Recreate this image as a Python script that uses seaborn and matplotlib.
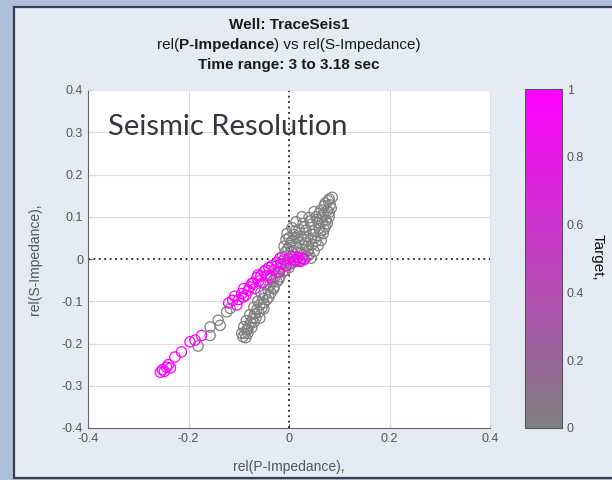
import numpy as np
import pandas as pd
import seaborn as sns
import matplotlib
matplotlib.use("Agg")
import matplotlib.pyplot as plt
from matplotlib.colors import LinearSegmentedColormap, Normalize
from matplotlib.patches import Rectangle
from matplotlib.cm import ScalarMappable

# ---- data: relative P- and S-impedance samples, coloured by target flag ----
grey_p = [-0.092, -0.088, -0.084, -0.090, -0.080, -0.076, -0.085, -0.072, -0.068, -0.078,
          -0.064, -0.070, -0.058, -0.062, -0.052, -0.048, -0.056, -0.042, -0.038, -0.046,
          -0.032, -0.028, -0.036, -0.022, -0.016, -0.024, -0.010, -0.004, -0.014, 0.002,
          0.010, 0.018, -0.008, 0.004, 0.016, 0.028, 0.036, 0.044, -0.010, 0.002,
          0.014, 0.026, 0.038, 0.050, -0.006, 0.008, 0.020, 0.032, 0.046, 0.058,
          0.064, -0.004, 0.010, 0.024, 0.038, 0.052, 0.068, 0.006, 0.020, 0.034,
          0.048, 0.060, 0.072, 0.014, 0.028, 0.044, 0.058, 0.074, 0.026, 0.040,
          0.054, 0.068, 0.080, 0.050, 0.064, 0.076, 0.070, 0.082, 0.078, 0.086,
          0.084, -0.012, 0.000, 0.008, -0.020, -0.030, -0.040, -0.050, -0.058, 0.020,
          0.030, -0.181, -0.157, -0.157, -0.141, -0.137, -0.124, -0.117, -0.094, -0.082,
          0.000, 0.012, 0.030, 0.042, 0.056, 0.066, 0.076, 0.062, 0.054, 0.044,
          0.030, 0.016, 0.004, 0.036, 0.060, 0.072, 0.080, 0.066, 0.048, 0.040,
          0.024, -0.002, 0.070, 0.080, -0.086, -0.082, -0.074, -0.070, -0.066, -0.060,
          -0.054, -0.050, -0.044, -0.036, -0.030, -0.024, -0.018, -0.008, 0.002, 0.014]
grey_s = [-0.184, -0.176, -0.168, -0.160, -0.158, -0.150, -0.146, -0.140, -0.130, -0.132,
          -0.120, -0.114, -0.108, -0.100, -0.094, -0.084, -0.080, -0.072, -0.062, -0.060,
          -0.052, -0.042, -0.038, -0.032, -0.022, -0.016, -0.012, -0.004, 0.004, 0.006,
          0.004, 0.002, 0.016, 0.018, 0.014, 0.010, 0.006, 0.002, 0.030, 0.032,
          0.028, 0.024, 0.020, 0.018, 0.046, 0.044, 0.040, 0.038, 0.034, 0.032,
          0.044, 0.060, 0.058, 0.054, 0.052, 0.050, 0.060, 0.074, 0.070, 0.068,
          0.066, 0.072, 0.076, 0.088, 0.084, 0.082, 0.086, 0.092, 0.100, 0.098,
          0.100, 0.104, 0.100, 0.112, 0.116, 0.114, 0.126, 0.128, 0.138, 0.146,
          0.120, -0.030, -0.020, -0.008, -0.048, -0.070, -0.090, -0.118, -0.140, -0.004,
          -0.002, -0.206, -0.181, -0.161, -0.145, -0.157, -0.125, -0.117, -0.176, -0.166,
          0.050, 0.066, 0.076, 0.090, 0.094, 0.088, 0.084, 0.062, 0.042, 0.046,
          0.046, 0.050, 0.040, 0.030, 0.108, 0.132, 0.142, 0.098, 0.058, 0.010,
          0.014, 0.024, 0.070, 0.110, -0.186, -0.176, -0.162, -0.150, -0.140, -0.126,
          -0.116, -0.104, -0.096, -0.080, -0.066, -0.054, -0.042, -0.028, -0.012, -0.006]
grey_t = [0.0] * len(grey_p)

pink_p = [-0.256, -0.252, -0.248, -0.244, -0.240, -0.236, -0.227, -0.214, -0.197, -0.187,
          -0.174, -0.104, -0.091, -0.081, -0.071, -0.062, -0.112, -0.100, -0.094, -0.086,
          -0.078, -0.068, -0.060, -0.052, -0.044, -0.036, -0.030, -0.020, -0.016, -0.006,
          0.000, 0.010, 0.018, 0.026, -0.050, -0.040, -0.018, -0.120, -0.108, -0.090,
          -0.074, -0.064, -0.056, -0.046, -0.034, -0.024, -0.010, 0.006, 0.014, 0.022,
          0.030]
pink_s = [-0.268, -0.262, -0.266, -0.256, -0.250, -0.258, -0.232, -0.220, -0.196, -0.192,
          -0.181, -0.109, -0.090, -0.074, -0.057, -0.038, -0.098, -0.096, -0.082, -0.086,
          -0.066, -0.070, -0.052, -0.056, -0.040, -0.044, -0.026, -0.030, -0.012, -0.016,
          0.000, -0.004, 0.004, 0.002, -0.030, -0.020, 0.002, -0.104, -0.088, -0.070,
          -0.058, -0.044, -0.040, -0.026, -0.016, -0.008, -0.002, 0.006, -0.002, -0.006,
          0.000]
pink_t = [1.0] * len(pink_p)

x_ticks = [-0.4, -0.2, 0, 0.2, 0.4]
x_tick_labels = ["-0.4", "-0.2", "0", "0.2", "0.4"]
y_ticks = [-0.4, -0.3, -0.2, -0.1, 0, 0.1, 0.2, 0.3, 0.4]
y_tick_labels = ["-0.4", "-0.3", "-0.2", "-0.1", "0", "0.1", "0.2", "0.3", "0.4"]
cbar_ticks = [0, 0.2, 0.4, 0.6, 0.8, 1]
cbar_tick_labels = ["0", "0.2", "0.4", "0.6", "0.8", "1"]

df = pd.DataFrame({
    "p_imp": grey_p + pink_p,
    "s_imp": grey_s + pink_s,
    "target": grey_t + pink_t,
})

# ---- styling ----
sns.set_theme(style="white")
plt.rcParams["font.family"] = ["Liberation Sans", "DejaVu Sans"]

W, H = 612, 480
fig = plt.figure(figsize=(W / 100, H / 100), dpi=100)
fig.patch.set_facecolor("#aebfdc")

def fx(px):
    return px / W

def fy(py):
    return 1 - py / H

# window panel with dark frame, kept behind everything else
fig.patches.append(Rectangle((fx(14), fy(478)), fx(W - 14) + 0.01, (478 - 7) / H,
                             transform=fig.transFigure, facecolor="#e5ebf4",
                             edgecolor="#3a3d52", linewidth=1.6, zorder=-10))

cmap = LinearSegmentedColormap.from_list("grey_magenta", ["#808080", "#ff00ff"])
norm = Normalize(0, 1)

ax = fig.add_axes([fx(88), fy(428), fx(490 - 88), (428 - 90) / H])
ax.set_facecolor("white")

sns.scatterplot(data=df, x="p_imp", y="s_imp", hue="target", palette=cmap,
                hue_norm=norm, s=55, linewidth=0.9, legend=False, ax=ax, zorder=3)
coll = ax.collections[0]
cols = coll.get_facecolors()
coll.set_edgecolors(cols)
coll.set_facecolors("none")

ax.set_xlim(-0.4, 0.4)
ax.set_ylim(-0.4, 0.4)
ax.set_xticks(x_ticks)
ax.set_xticklabels(x_tick_labels)
ax.set_yticks(y_ticks)
ax.set_yticklabels(y_tick_labels)
ax.tick_params(direction="in", length=3, width=0.8, colors="#555555",
               labelsize=9, labelcolor="#555555", left=True, bottom=True)
for v in x_ticks[1:-1]:
    if v != 0:
        ax.axvline(v, color="#dcdcdc", lw=0.8, zorder=1)
for v in y_ticks[1:-1]:
    if v != 0:
        ax.axhline(v, color="#dcdcdc", lw=0.8, zorder=1)
ax.axvline(0, color="#222222", lw=1.3, ls=(0, (1, 2)), zorder=2)
ax.axhline(0, color="#222222", lw=1.3, ls=(0, (1, 2)), zorder=2)
for side in ("left", "bottom"):
    ax.spines[side].set_color("#666666")
    ax.spines[side].set_linewidth(0.8)
for side in ("top", "right"):
    ax.spines[side].set_color("#e0e0e0")
    ax.spines[side].set_linewidth(0.6)

ax.set_xlabel("rel(P-Impedance),", fontsize=10, color="#555555", labelpad=11)
ax.set_ylabel("rel(S-Impedance),", fontsize=10, color="#555555", labelpad=14)

ax.text(-0.36, 0.293, "Seismic Resolution", family=["Lato", "DejaVu Sans"],
        fontsize=21, color="#33363d", va="baseline", ha="left", zorder=4)

# ---- title lines ----
cx = fx(289)
fig.text(cx, fy(25), "Well: TraceSeis1", ha="center", va="center",
         fontsize=11, fontweight="bold", color="#1a1a1a")
fig.text(cx, fy(65), "Time range: 3 to 3.18 sec", ha="center", va="center",
         fontsize=11, fontweight="bold", color="#1a1a1a")

pieces = [("rel(", "normal"), ("P-Impedance", "bold"), (") vs rel(S-Impedance)", "normal")]
renderer = fig.canvas.get_renderer()
texts = []
for s, w in pieces:
    t = fig.text(0, fy(45), s, ha="left", va="center", fontsize=11,
                 fontweight=w, color="#1a1a1a")
    texts.append(t)
widths = [t.get_window_extent(renderer).width for t in texts]
x0 = 289 - sum(widths) / 2
for t, wd in zip(texts, widths):
    t.set_x(fx(x0))
    x0 += wd

# ---- colorbar ----
cax = fig.add_axes([fx(525), fy(428), fx(562 - 525), (428 - 89) / H])
cb = fig.colorbar(ScalarMappable(norm=norm, cmap=cmap), cax=cax)
cb.set_ticks(cbar_ticks)
cb.set_ticklabels(cbar_tick_labels)
cb.outline.set_edgecolor("#555555")
cb.outline.set_linewidth(0.8)
cax.tick_params(direction="in", length=3, width=0.8, colors="#555555",
                labelsize=9, labelcolor="#555555")
fig.text(fx(598), fy(257), "Target,", rotation=-90, ha="center", va="center",
         fontsize=11, color="#111111")

fig.savefig("out.png", dpi=100, facecolor=fig.get_facecolor())
